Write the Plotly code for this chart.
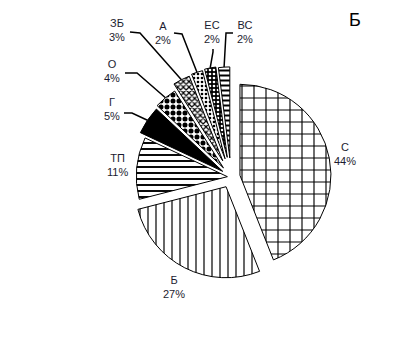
import numpy as np
import plotly.graph_objects as go

labels = ["С", "Б", "ТП", "Г", "О", "ЗБ", "А", "ЕС", "ВС"]
values = [44, 27, 11, 5, 4, 3, 2, 2, 2]
title_text = "Б"

# ---- styles ----
shapes = ["+", "|", "-", "", ".", "x", ".", ".", "-"]
fgcols = ["black", "black", "black", "black", "black", "black", "black", "white", "black"]
bgcols = ["white", "white", "white", "black", "white", "white", "white", "black", "white"]
psizes = [12, 8, 6, 8, 6, 4, 4, 4, 5]
psolid = [0.18, 0.15, 0.32, 0.3, 0.55, 0.5, 0.35, 0.35, 0.4]
pulls = [0.10, 0.12, 0.04, 0.11, 0.13, 0.20, 0.21, 0.22, 0.21]
# label text centres (page pixels)
lab_px = [(345, 154), (174, 287), (117, 165), (112, 109), (112, 71), (117, 30), (163, 33), (212, 32), (245, 32)]
# leader polylines: start point and knee (page pixels), tip computed from slice angle
lead_start = [None, None, None, (124, 113), (125, 73), (130, 32), (174, 33), (213, 49), (233, 33)]
lead_knee = [None, None, None, (132, 113), (137, 73), (140, 33), (182, 34), (213, 52), (226, 33)]

W, H = 397, 337
OFF = 8  # page body margin
cx, cy, R = 231 - OFF, 177 - OFF, 91
maxp = max(pulls)
half = R * (1 + maxp)

fig = go.Figure(go.Pie(
    labels=labels, values=values, sort=False, direction="clockwise", rotation=0,
    pull=pulls, textinfo="none", hoverinfo="label+percent",
    marker=dict(colors=bgcols, line=dict(color="black", width=1),
                pattern=dict(shape=shapes, fgcolor=fgcols, bgcolor=bgcols,
                             size=psizes, solidity=psolid, fillmode="replace")),
    domain=dict(x=[(cx - half) / W, (cx + half) / W],
                y=[1 - (cy + half) / H, 1 - (cy - half) / H]),
    showlegend=False,
))

def px2paper(x, y):
    return (x - OFF) / W, 1 - (y - OFF) / H

vals = np.array(values, dtype=float)
cum = np.cumsum(vals) - vals / 2
ang = cum / vals.sum() * 2 * np.pi
annos, shp = [], []
txtfont = dict(size=11, color="#1c1c30")
for i, lab in enumerate(labels):
    lx, ly = px2paper(*lab_px[i])
    annos.append(dict(x=lx, y=ly, xref="paper", yref="paper", xanchor="center", yanchor="middle",
                      text=f"{lab}<br>{values[i]}%", showarrow=False, font=txtfont))
    if lead_start[i] is not None:
        r = R * (1 + pulls[i])
        tx = cx + OFF + r * np.sin(ang[i])
        ty = cy + OFF - r * np.cos(ang[i])
        pts = [px2paper(*lead_start[i]), px2paper(*lead_knee[i]), px2paper(tx, ty)]
        path = "M " + " L ".join(f"{x:.5f},{y:.5f}" for x, y in pts)
        shp.append(dict(type="path", path=path, xref="paper", yref="paper",
                        line=dict(color="black", width=1.5)))
tx_, ty_ = px2paper(355, 20)
annos.append(dict(x=tx_, y=ty_, xref="paper", yref="paper", xanchor="center", yanchor="middle",
                  borderpad=0, text=title_text, showarrow=False, font=dict(size=18, color="black")))

fig.update_layout(width=W, height=H, margin=dict(l=0, r=0, t=0, b=0),
                  paper_bgcolor="white", plot_bgcolor="white",
                  font=dict(family="Liberation Sans, Arial, sans-serif"),
                  annotations=annos, shapes=shp)
fig.write_html("out.html")
